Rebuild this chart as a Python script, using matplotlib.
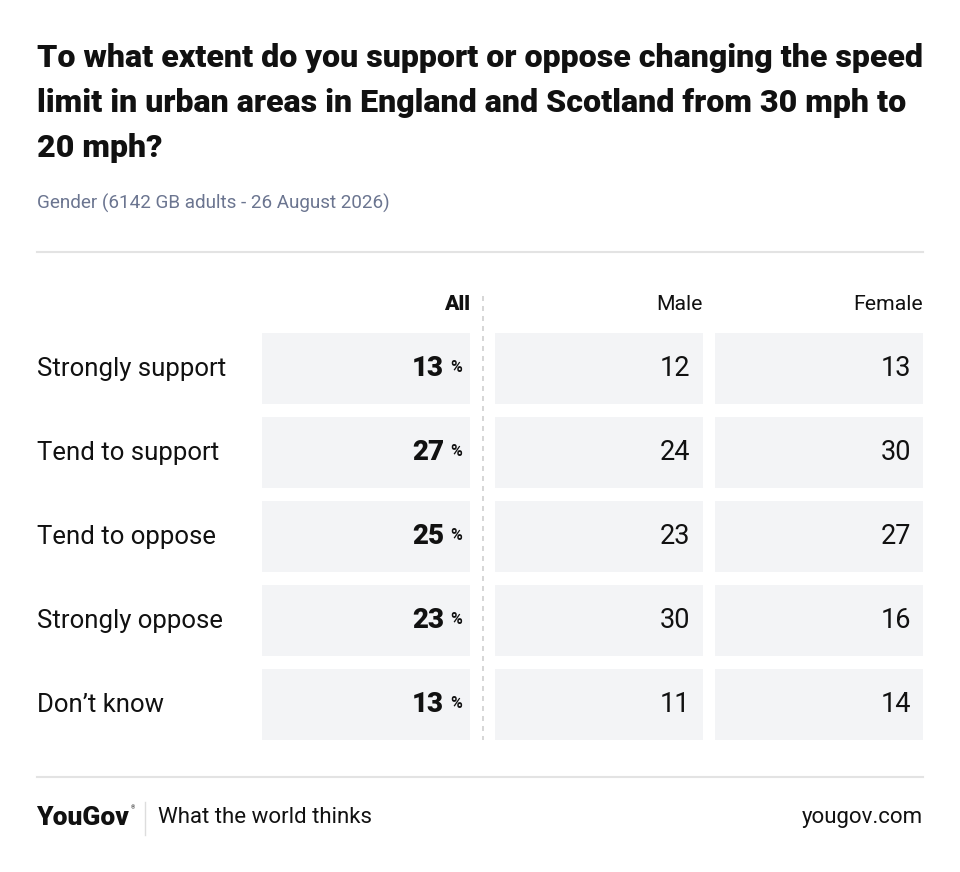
import matplotlib.pyplot as plt
from matplotlib.patches import Rectangle

title_lines = ["To what extent do you support or oppose changing the speed",
               "limit in urban areas in England and Scotland from 30 mph to",
               "20 mph?"]
subtitle = "Gender (6142 GB adults - 26 August 2026)"

answers = ["Strongly support", "Tend to support", "Tend to oppose", "Strongly oppose", "Don\u2019t know"]
columns = ["All", "Male", "Female"]
all_values = [13, 27, 25, 23, 13]
male_values = [12, 24, 23, 30, 11]
female_values = [13, 30, 27, 16, 14]

FONT = "Roboto"
ink = "#111111"
cell_bg = "#f3f4f6"

fig = plt.figure(figsize=(9.6, 8.72), dpi=100)
ax = fig.add_axes([0, 0, 1, 1])
ax.set_xlim(0, 960)
ax.set_ylim(872, 0)
ax.axis("off")

# heading, one text per line so the spacing can be set in pixels
for i, line in enumerate(title_lines):
    ax.text(37, 58 + i * 45, line, fontsize=23.1, fontweight="black", family=FONT,
            va="center", ha="left", color=ink)
ax.text(37, 203, subtitle, fontsize=13.6, family=FONT, va="center", color="#6b7590")
ax.plot([37, 923], [252, 252], color="#e3e3e3", lw=1.5)

# column layout
col_left = [262, 495, 715]
col_w = 208
row_top = 333
row_h = 71
row_step = 84

header_y = 304
for i, name in enumerate(columns):
    ax.text(col_left[i] + col_w, header_y, name, fontsize=15.3, family=FONT,
            fontweight="black" if i == 0 else "normal", ha="right", va="center",
            color=ink)

for r, label in enumerate(answers):
    top = row_top + r * row_step
    mid = top + row_h / 2
    ax.text(37, mid, label, fontsize=18.5, family=FONT, va="center", color=ink)
    for c in range(3):
        ax.add_patch(Rectangle((col_left[c], top), col_w, row_h, color=cell_bg, lw=0))
    ax.text(444, mid, str(all_values[r]), fontsize=20, fontweight="black", family=FONT,
            ha="right", va="center", color=ink)
    ax.text(450, mid - 1, "%", fontsize=11.5, fontweight="bold", family=FONT,
            ha="left", va="center", color=ink)
    ax.text(690, mid, str(male_values[r]), fontsize=19.5, family=FONT,
            ha="right", va="center", color=ink)
    ax.text(911, mid, str(female_values[r]), fontsize=19.5, family=FONT,
            ha="right", va="center", color=ink)

# dashed divider after "All"
ax.plot([483, 483], [296, row_top + 4 * row_step + row_h], color="#cfcfcf",
        lw=1.2, ls=(0, (3, 3)))

# footer
ax.plot([37, 923], [777, 777], color="#e3e3e3", lw=1.5)
ax.text(36, 818, "YouGov", fontsize=19, fontweight="black", family=FONT,
        va="center", color=ink)
ax.text(131, 808, "\u00ae", fontsize=4, family=FONT, va="center", color=ink)
ax.plot([145, 145], [802, 835], color="#dddddd", lw=1)
ax.text(158, 817, "What the world thinks", fontsize=16, family=FONT,
        va="center", color=ink)
ax.text(923, 817, "yougov.com", fontsize=16, family=FONT, ha="right",
        va="center", color=ink)

fig.savefig("out.png", dpi=100)
